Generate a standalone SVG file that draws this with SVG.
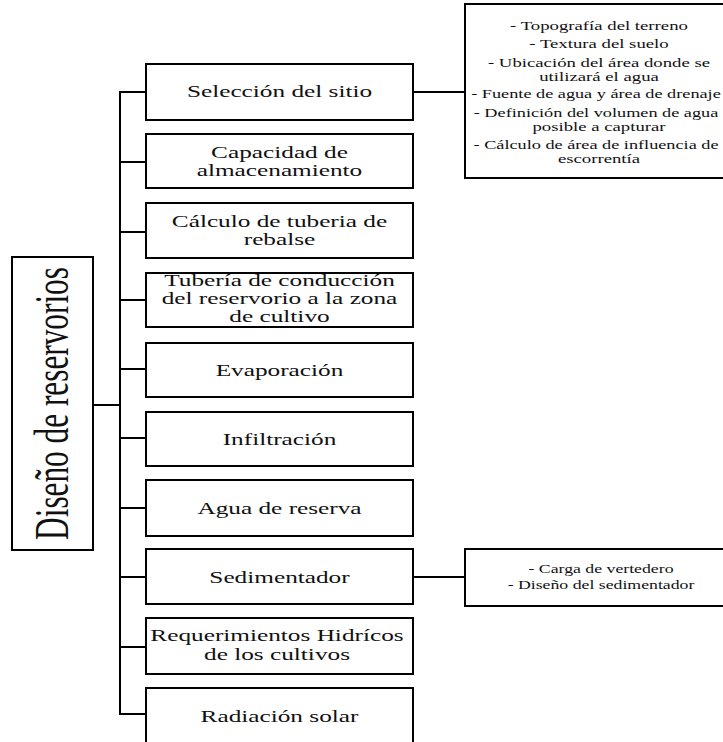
<svg xmlns="http://www.w3.org/2000/svg" width="723" height="742" viewBox="0 0 723 742">
<style>
.box{fill:#fff;stroke:#000;stroke-width:2}
.conn{fill:none;stroke:#000;stroke-width:2}
.lbl{font-family:"Liberation Serif","Times New Roman",serif;font-size:16px;fill:#111;text-anchor:middle}
.det{font-size:12.5px}
.main{font-size:48px}
</style>
<rect width="723" height="742" fill="#fff"/>
<g id="connectors">
<path class="conn" d="M93,405 H120"/>
<path class="conn" d="M146,92 H120 V714 H146"/>
<path class="conn" d="M120,162 H146 M120,232 H146 M120,300 H146 M120,369 H146 M120,438 H146 M120,508 H146 M120,577 H146 M120,647 H146"/>
<path class="conn" d="M413,92 H465"/>
<path class="conn" d="M413,577 H465"/>
</g>
<g id="main">
<rect class="box" x="12" y="257" width="81" height="293"/>
<text class="lbl main" transform="translate(68,403.5) rotate(-90) scale(0.652,1)" x="0" y="0">Diseño de reservorios</text>
</g>
<g id="n1">
<rect class="box" x="146" y="64" width="267" height="56"/>
<text class="lbl" transform="translate(279.5,0) scale(1.58,1)"><tspan x="0" y="97">Selección del sitio</tspan></text>
</g>
<g id="n2">
<rect class="box" x="146" y="134" width="267" height="54"/>
<text class="lbl" transform="translate(279.5,0) scale(1.58,1)"><tspan x="0" y="158">Capacidad de</tspan><tspan x="0" y="176.5">almacenamiento</tspan></text>
</g>
<g id="n3">
<rect class="box" x="146" y="203" width="267" height="55"/>
<text class="lbl" transform="translate(279.5,0) scale(1.58,1)"><tspan x="0" y="227">Cálculo de tuberia de</tspan><tspan x="0" y="245">rebalse</tspan></text>
</g>
<g id="n4">
<rect class="box" x="146" y="273" width="267" height="54"/>
<text class="lbl" transform="translate(279.5,0) scale(1.58,1)"><tspan x="0" y="286">Tubería de conducción</tspan><tspan x="0" y="304">del reservorio a la zona</tspan><tspan x="0" y="322">de cultivo</tspan></text>
</g>
<g id="n5">
<rect class="box" x="146" y="343" width="267" height="54"/>
<text class="lbl" transform="translate(279.5,0) scale(1.58,1)"><tspan x="0" y="376">Evaporación</tspan></text>
</g>
<g id="n6">
<rect class="box" x="146" y="412" width="267" height="54"/>
<text class="lbl" transform="translate(279.5,0) scale(1.58,1)"><tspan x="0" y="445">Infiltración</tspan></text>
</g>
<g id="n7">
<rect class="box" x="146" y="480" width="267" height="56"/>
<text class="lbl" transform="translate(279.5,0) scale(1.58,1)"><tspan x="0" y="514">Agua de reserva</tspan></text>
</g>
<g id="n8">
<rect class="box" x="146" y="549" width="267" height="55"/>
<text class="lbl" transform="translate(279.5,0) scale(1.58,1)"><tspan x="0" y="583">Sedimentador</tspan></text>
</g>
<g id="n9">
<rect class="box" x="146" y="618" width="267" height="56"/>
<text class="lbl" transform="translate(277,0) scale(1.58,1)"><tspan x="0" y="641">Requerimientos Hidrícos</tspan><tspan x="0" y="660">de los cultivos</tspan></text>
</g>
<g id="n10">
<rect class="box" x="146" y="688" width="267" height="60"/>
<text class="lbl" transform="translate(279.5,0) scale(1.58,1)"><tspan x="0" y="722">Radiación solar</tspan></text>
</g>
<g id="d1">
<rect class="box" x="465" y="4" width="280" height="174"/>
<text class="lbl det" transform="translate(599,0) scale(1.5,1)"><tspan x="0" y="30">- Topografía del terreno</tspan><tspan x="0" y="48">- Textura del suelo</tspan><tspan x="0" y="67">- Ubicación del área donde se</tspan><tspan x="0" y="81">utilizará el agua</tspan></text>
<text class="lbl det" transform="translate(596,0) scale(1.46,1)"><tspan x="0" y="98">- Fuente de agua y área de drenaje</tspan><tspan x="0" y="117">- Definición del volumen de agua</tspan></text>
<text class="lbl det" transform="translate(599,0) scale(1.5,1)"><tspan x="0" y="131">posible a capturar</tspan></text>
<text class="lbl det" transform="translate(596,0) scale(1.46,1)"><tspan x="0" y="149">- Cálculo de área de influencia de</tspan></text>
<text class="lbl det" transform="translate(599,0) scale(1.5,1)"><tspan x="0" y="163">escorrentía</tspan></text>
</g>
<g id="d2">
<rect class="box" x="465" y="549" width="280" height="57"/>
<text class="lbl det" transform="translate(601,0) scale(1.42,1)"><tspan x="0" y="573">- Carga de vertedero</tspan><tspan x="0" y="589">- Diseño del sedimentador</tspan></text>
</g>
</svg>
